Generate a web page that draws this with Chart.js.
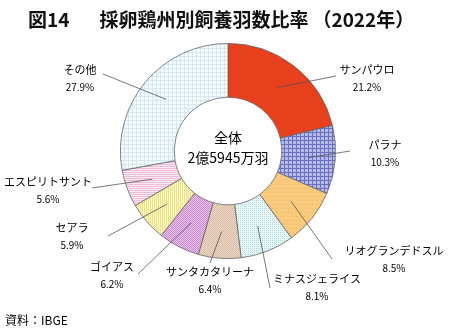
<!DOCTYPE html>
<html>
<head>
<meta charset="utf-8">
<script src="https://cdn.jsdelivr.net/npm/chart.js@4/dist/chart.umd.min.js"></script>
<style>
  body { margin: 0; background: #fff; }
  #wrap { position: relative; width: 450px; height: 335px; }
  #title {
    position: absolute; left: 28px; top: 5px;
    font: bold 19px "Noto Sans CJK JP", sans-serif; color: #111; white-space: nowrap;
  }
  #title span { margin-left: 30px; }
  #title em { font-style: normal; margin-left: 4px; }
  #source {
    position: absolute; left: 5px; top: 311px;
    font: 12px "Noto Sans CJK JP", sans-serif; color: #000;
  }
</style>
</head>
<body>
<div id="wrap">
  <canvas id="chart" width="450" height="335"></canvas>
  <div id="title">図14<span>採卵鶏州別飼養羽数比率<em>（2022年）</em></span></div>
  <div id="source">資料：IBGE</div>
</div>
<script>
// data
const states = ["サンパウロ", "パラナ", "リオグランデドスル", "ミナスジェライス", "サンタカタリーナ", "ゴイアス", "セアラ", "エスピリトサント", "その他"];
const shares = [21.2, 10.3, 8.5, 8.1, 6.4, 6.2, 5.9, 5.6, 27.9];
const centerTitle = "全体";
const centerTotal = "2億5945万羽";

// label layout, offsets from the pie centre: [labelX, labelY, lineEndX, lineEndY]
const labelLayout = [
  [139, -81, 108, -75],
  [157, -6, 122, 0],
  [166, 100, 104, 108],
  [89, 128, 42, 137],
  [-18, 121, -18, 112],
  [-116, 116, -90, 123],
  [-156, 77, -120, 85],
  [-180, 31, -136, 37],
  [-148, -81, -125, -77],
];

// build a fill pattern from a tiny tile
function makePattern(size, bg, draw) {
  const c = document.createElement("canvas");
  c.width = size; c.height = size;
  const g = c.getContext("2d");
  g.fillStyle = bg;
  g.fillRect(0, 0, size, size);
  draw(g);
  return g.createPattern(c, "repeat");
}

const ctx = document.getElementById("chart").getContext("2d");

const fills = [
  "#E8401C",
  makePattern(4, "#B4B9EA", (g) => { g.fillStyle = "#6A70C0"; g.fillRect(0, 0, 4, 1); g.fillRect(0, 0, 1, 4); }),
  makePattern(4, "#F9C97C", (g) => { g.fillStyle = "#EDBA6C"; g.fillRect(0, 0, 1, 1); }),
  makePattern(2, "#E6F7F8", (g) => { g.fillStyle = "#B3D9DC"; g.fillRect(0, 0, 1, 1); }),
  makePattern(2, "#EDDAC8", (g) => { g.fillStyle = "#D6BAA3"; g.fillRect(0, 0, 1, 1); g.fillRect(1, 1, 1, 1); }),
  makePattern(2, "#EBC3EB", (g) => { g.fillStyle = "#C489CF"; g.fillRect(0, 0, 1, 1); g.fillRect(1, 1, 1, 1); }),
  makePattern(2, "#FCF8BA", (g) => { g.fillStyle = "#EAE192"; g.fillRect(0, 0, 1, 2); }),
  makePattern(2, "#FBEAF2", (g) => { g.fillStyle = "#EBBDD6"; g.fillRect(0, 0, 2, 1); }),
  makePattern(4, "#F5FBFD", (g) => { g.fillStyle = "#D3E8F1"; g.fillRect(0, 0, 4, 1); g.fillRect(0, 0, 1, 4); }),
];

// draws centre text, leader lines and outside labels
const labelPlugin = {
  id: "labelPlugin",
  afterDatasetsDraw(chart) {
    const c = chart.ctx;
    const meta = chart.getDatasetMeta(0);
    const arc0 = meta.data[0];
    const cx = arc0.x, cy = arc0.y;
    c.save();
    c.fillStyle = "#000";
    c.textAlign = "center";
    c.textBaseline = "middle";
    c.font = '14px "Noto Sans CJK JP", sans-serif';
    c.fillText(centerTitle, cx, cy - 13);
    c.fillText(centerTotal, cx, cy + 7);

    meta.data.forEach((arc, i) => {
      const mid = (arc.startAngle + arc.endAngle) / 2;
      const r = (arc.innerRadius + arc.outerRadius) / 2;
      const sx = cx + Math.cos(mid) * r;
      const sy = cy + Math.sin(mid) * r;
      const [lx, ly, ex, ey] = labelLayout[i];
      c.strokeStyle = "#555";
      c.lineWidth = 0.8;
      c.beginPath();
      c.moveTo(sx, sy);
      c.lineTo(cx + ex, cy + ey);
      c.stroke();
      c.font = '11px "Noto Sans CJK JP", sans-serif';
      c.fillText(states[i], cx + lx, cy + ly);
      c.font = '10px "Noto Sans CJK JP", sans-serif';
      c.fillText(shares[i].toFixed(1) + "%", cx + lx, cy + ly + 17);
    });
    c.restore();
  },
};

new Chart(ctx, {
  type: "doughnut",
  data: {
    labels: states,
    datasets: [
      {
        data: shares,
        backgroundColor: fills,
        borderColor: "#666",
        borderWidth: 0.8,
      },
    ],
  },
  options: {
    responsive: false,
    animation: false,
    cutout: "50%",
    layout: { padding: { left: 120, right: 114, top: 43, bottom: 76 } },
    plugins: {
      legend: { display: false },
      tooltip: { enabled: false },
    },
  },
  plugins: [labelPlugin],
});
</script>
</body>
</html>
